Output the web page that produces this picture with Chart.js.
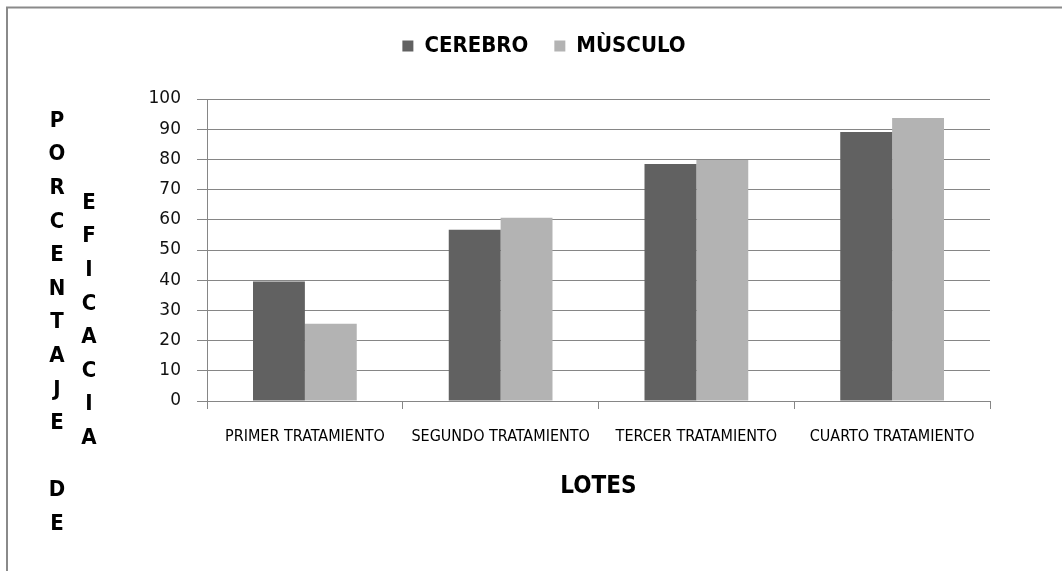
<!DOCTYPE html>
<html>
<head>
<meta charset="utf-8">
<script src="https://cdn.jsdelivr.net/npm/chart.js@4.4.1/dist/chart.umd.min.js"></script>
<style>
  html, body { margin: 0; padding: 0; background: #ffffff; }
  #wrap { width: 1062px; height: 571px; }
</style>
</head>
<body>
<div id="wrap"><canvas id="c" width="1062" height="571"></canvas></div>
<script>
const categories = ["PRIMER TRATAMIENTO", "SEGUNDO TRATAMIENTO", "TERCER TRATAMIENTO", "CUARTO TRATAMIENTO"];
const seriesNames = ["CEREBRO", "MÙSCULO"];
const cerebro = [39.6, 56.7, 78.5, 89.1];
const musculo = [25.6, 60.7, 79.8, 93.7];
const yTitleCol1 = "PORCENTAJE DE";
const yTitleCol2 = "EFICACIA";
const xTitle = "LOTES";

const NARROW = '"Liberation Sans Narrow", "DejaVu Sans Condensed", "Liberation Sans", sans-serif';
const GRID = '#868686';

const framePlugin = {
  id: 'frame',
  afterDraw(chart) {
    const ctx = chart.ctx;
    ctx.save();
    ctx.strokeStyle = '#8a8a8a';
    ctx.lineWidth = 2;
    ctx.beginPath();
    ctx.moveTo(6, 7.5); ctx.lineTo(chart.width, 7.5);
    ctx.moveTo(7, 6.5); ctx.lineTo(7, chart.height);
    ctx.stroke();
    ctx.restore();
  }
};

const yTitlePlugin = {
  id: 'yTitleLetters',
  afterDraw(chart) {
    const ctx = chart.ctx;
    const a = chart.chartArea;
    ctx.save();
    ctx.fillStyle = '#000';
    ctx.font = 'bold 22px ' + NARROW;
    ctx.textAlign = 'center';
    ctx.textBaseline = 'middle';
    const step = 33.6;
    const x1 = a.left - 150, y1 = a.top + 22;
    [...yTitleCol1].forEach((ch, i) => { if (ch !== ' ') ctx.fillText(ch, x1, y1 + i * step); });
    const x2 = a.left - 118, y2 = a.top + 104;
    [...yTitleCol2].forEach((ch, i) => { ctx.fillText(ch, x2, y2 + i * step); });
    ctx.restore();
  }
};

const legendHeightPlugin = {
  id: 'legendHeight',
  beforeInit(chart) {
    const origFit = chart.legend.fit;
    chart.legend.fit = function () {
      origFit.bind(chart.legend)();
      this.height = 90;
    };
  }
};

new Chart(document.getElementById('c'), {
  type: 'bar',
  data: {
    labels: categories,
    datasets: [
      { label: seriesNames[0], data: cerebro, backgroundColor: '#616161', borderWidth: 0 },
      { label: seriesNames[1], data: musculo, backgroundColor: '#b3b3b3', borderWidth: 0 }
    ]
  },
  options: {
    responsive: false,
    animation: false,
    devicePixelRatio: 1,
    layout: { padding: { left: 98, right: 72, top: 9, bottom: 0 } },
    datasets: { bar: { categoryPercentage: 0.53, barPercentage: 1.0 } },
    plugins: {
      tooltip: { enabled: false },
      legend: {
        display: true,
        position: 'top',
        align: 'center',
        labels: {
          boxWidth: 11,
          boxHeight: 11,
          padding: 26,
          color: '#000',
          font: { family: NARROW, size: 22, weight: 'bold' }
        }
      }
    },
    scales: {
      x: {
        grid: { display: true, drawOnChartArea: false, offset: true, tickLength: 8, color: GRID, lineWidth: 1 },
        border: { display: true, color: GRID, width: 1 },
        ticks: { color: '#000', padding: 18, maxRotation: 0, autoSkip: false, font: { family: NARROW, size: 16 } },
        title: { display: true, text: xTitle, color: '#000', font: { family: NARROW, size: 24, weight: 'bold' }, padding: { top: 0, bottom: 70 } },
        afterFit(scale) { scale.height = 170; }
      },
      y: {
        min: 0, max: 100,
        ticks: { stepSize: 10, color: '#111', padding: 16, font: { family: '"DejaVu Sans", sans-serif', size: 17 } },
        grid: { color: GRID, lineWidth: 1, tickLength: 10, drawTicks: true },
        border: { display: true, color: GRID, width: 1 },
        afterFit(scale) { scale.width = 109; }
      }
    }
  },
  plugins: [legendHeightPlugin, yTitlePlugin, framePlugin]
});
</script>
</body>
</html>
